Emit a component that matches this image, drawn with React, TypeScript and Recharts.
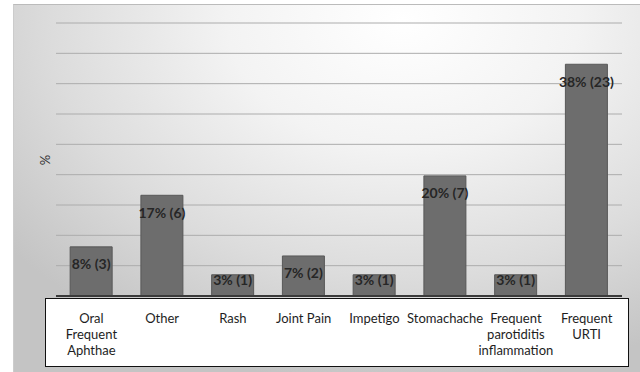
import React from 'react';
import { BarChart, Bar, XAxis, YAxis, CartesianGrid, LabelList } from 'recharts';

const categories = [
  'Oral\nFrequent\nAphthae',
  'Other',
  'Rash',
  'Joint Pain',
  'Impetigo',
  'Stomachache',
  'Frequent\nparotiditis\ninflammation',
  'Frequent\nURTI',
];
const percents = [8.1, 16.6, 3.5, 6.6, 3.5, 19.8, 3.5, 38.2];
const valueLabels = ['8% (3)', '17% (6)', '3% (1)', '7% (2)', '3% (1)', '20% (7)', '3% (1)', '38% (23)'];
const yTicks = [0, 5, 10, 15, 20, 25, 30, 35, 40, 45];

const data = categories.map((name, i) => ({ name, value: percents[i], label: valueLabels[i] }));

const FONT = 'Lato, "Open Sans", sans-serif';

const CategoryTick = (props: any) => {
  const { x, y, payload } = props;
  const lines = String(payload.value).split('\n');
  return (
    <g>
      {lines.map((line, i) => (
        <text
          key={i}
          x={x}
          y={y + 19 + i * 16}
          textAnchor="middle"
          fontFamily={FONT}
          fontSize={13}
          fill="#1e1e1e"
        >
          {line}
        </text>
      ))}
    </g>
  );
};

const ValueLabel = (props: any) => {
  const { x, y, width, height, value } = props;
  const base = y + height;
  const cy = Math.min(y + 17, base - 17);
  return (
    <text
      x={x + width / 2}
      y={cy}
      textAnchor="middle"
      dominantBaseline="central"
      fontFamily={FONT}
      fontWeight={700}
      fontSize={14}
      fill="#262626"
    >
      {value}
    </text>
  );
};

const App = () => {
  return (
    <div style={{ position: 'absolute', left: 0, top: 0, width: 640, height: 372, background: '#fff', overflow: 'hidden' }}>
      <div
        style={{
          position: 'absolute',
          left: 13,
          top: 4,
          width: 627,
          height: 368,
          borderTop: '1px solid #bbb',
          borderLeft: '1px solid #ccc',
          background: 'radial-gradient(ellipse 80% 100% at 62% 4%, #ffffff 0%, #f3f3f3 35%, #dcdcdc 70%, #c4c4c4 100%)',
        }}
      />
      <div
        style={{
          position: 'absolute',
          left: 45,
          top: 298,
          width: 582,
          height: 67,
          background: '#fff',
          border: '1.5px solid #111',
        }}
      />
      <div style={{ position: 'absolute', left: 0, top: 0 }}>
        <BarChart
          width={640}
          height={372}
          data={data}
          margin={{ top: 23, right: 18, left: 0, bottom: 6 }}
          barCategoryGap="20%"
        >
          <CartesianGrid vertical={false} stroke="#acacac" strokeWidth={1} />
          <YAxis
            width={56}
            domain={[0, 45]}
            ticks={yTicks}
            tick={() => <g />}
            axisLine={false}
            tickLine={false}
            label={{
              content: () => (
                <text
                  x={45}
                  y={160}
                  transform="rotate(-90 45 160)"
                  textAnchor="middle"
                  dominantBaseline="central"
                  fontFamily={FONT}
                  fontSize={13}
                  fill="#333"
                >
                  %
                </text>
              ),
            }}
          />
          <XAxis
            dataKey="name"
            height={70}
            interval={0}
            tickLine={false}
            axisLine={{ stroke: '#3a3a3a', strokeWidth: 2 }}
            tick={<CategoryTick />}
          />
          <Bar dataKey="value" fill="#6d6d6d" stroke="#585858" strokeWidth={1} isAnimationActive={false}>
            <LabelList dataKey="label" content={<ValueLabel />} />
          </Bar>
        </BarChart>
      </div>
    </div>
  );
};

export default App;
